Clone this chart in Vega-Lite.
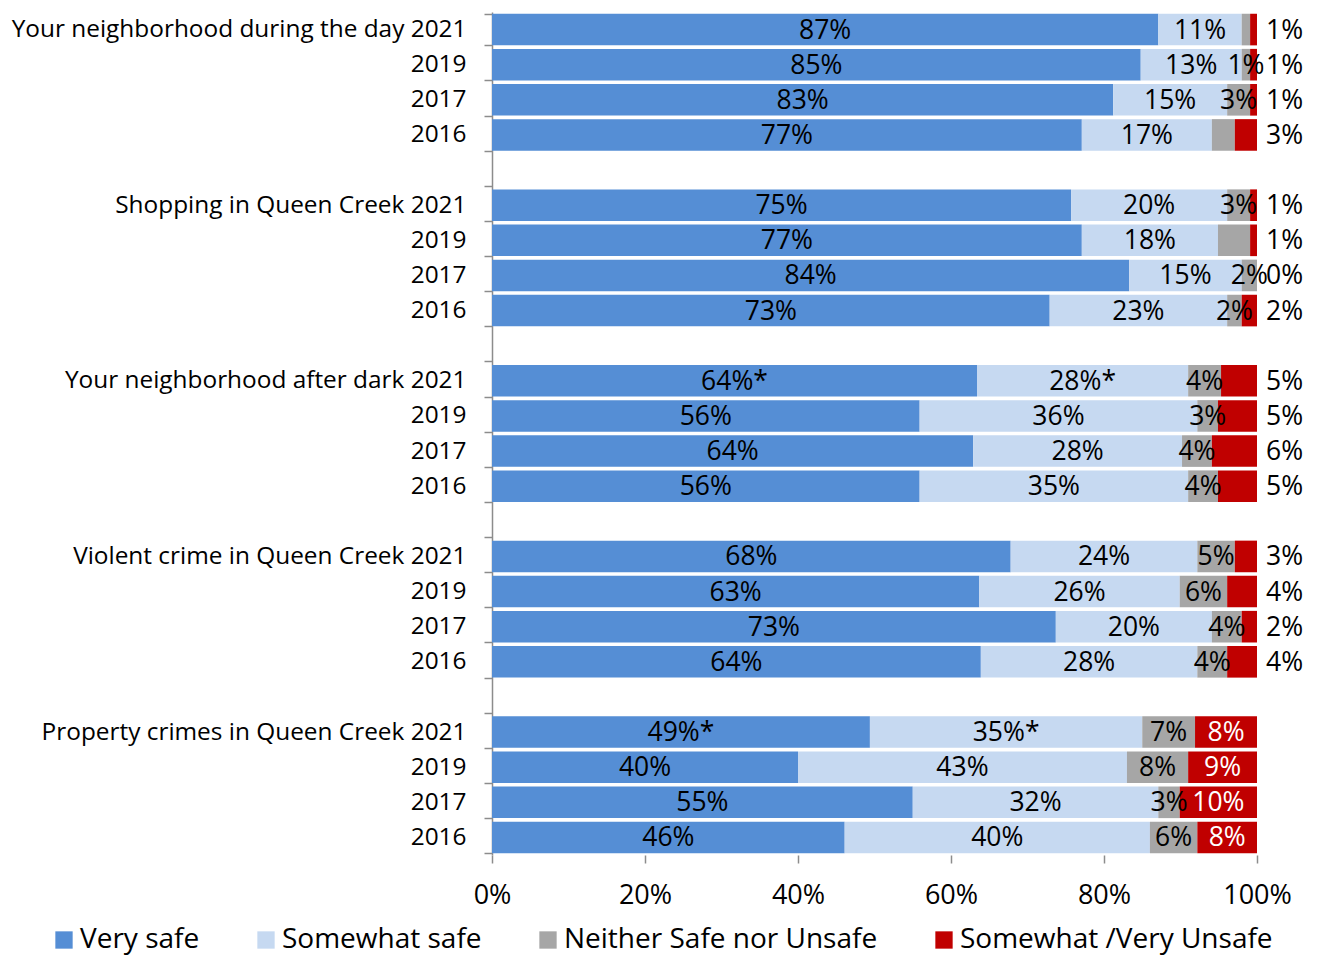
{
  "$schema": "https://vega.github.io/schema/vega-lite/v6.json",
  "width": 765,
  "height": 843,
  "autosize": {"type": "none"},
  "padding": {"left": 492, "top": 12, "right": 65, "bottom": 102},
  "background": "white",
  "config": {
    "view": {"stroke": null},
    "font": "Open Sans",
    "text": {"font": "Open Sans"}
  },
  "data": {
    "values": [
      {"row": "Your neighborhood during the day 2021|1", "cat": "Very safe", "k": 1, "v": 87.1, "lab": "87%", "out": ""},
      {"row": "Your neighborhood during the day 2021|1", "cat": "Somewhat safe", "k": 2, "v": 10.9, "lab": "11%", "out": ""},
      {"row": "Your neighborhood during the day 2021|1", "cat": "Neither Safe nor Unsafe", "k": 3, "v": 1.1, "lab": "", "out": ""},
      {"row": "Your neighborhood during the day 2021|1", "cat": "Somewhat /Very Unsafe", "k": 4, "v": 0.9, "lab": "", "out": "1%"},
      {"row": "2019|1", "cat": "Very safe", "k": 1, "v": 84.8, "lab": "85%", "out": ""},
      {"row": "2019|1", "cat": "Somewhat safe", "k": 2, "v": 13.2, "lab": "13%", "out": ""},
      {"row": "2019|1", "cat": "Neither Safe nor Unsafe", "k": 3, "v": 1.1, "lab": "1%", "out": ""},
      {"row": "2019|1", "cat": "Somewhat /Very Unsafe", "k": 4, "v": 0.9, "lab": "", "out": "1%"},
      {"row": "2017|1", "cat": "Very safe", "k": 1, "v": 81.2, "lab": "83%", "out": ""},
      {"row": "2017|1", "cat": "Somewhat safe", "k": 2, "v": 14.9, "lab": "15%", "out": ""},
      {"row": "2017|1", "cat": "Neither Safe nor Unsafe", "k": 3, "v": 3.0, "lab": "3%", "out": ""},
      {"row": "2017|1", "cat": "Somewhat /Very Unsafe", "k": 4, "v": 0.9, "lab": "", "out": "1%"},
      {"row": "2016|1", "cat": "Very safe", "k": 1, "v": 77.1, "lab": "77%", "out": ""},
      {"row": "2016|1", "cat": "Somewhat safe", "k": 2, "v": 17.0, "lab": "17%", "out": ""},
      {"row": "2016|1", "cat": "Neither Safe nor Unsafe", "k": 3, "v": 3.0, "lab": "", "out": ""},
      {"row": "2016|1", "cat": "Somewhat /Very Unsafe", "k": 4, "v": 2.9, "lab": "", "out": "3%"},

      {"row": "Shopping in Queen Creek 2021|2", "cat": "Very safe", "k": 1, "v": 75.7, "lab": "75%", "out": ""},
      {"row": "Shopping in Queen Creek 2021|2", "cat": "Somewhat safe", "k": 2, "v": 20.4, "lab": "20%", "out": ""},
      {"row": "Shopping in Queen Creek 2021|2", "cat": "Neither Safe nor Unsafe", "k": 3, "v": 3.0, "lab": "3%", "out": ""},
      {"row": "Shopping in Queen Creek 2021|2", "cat": "Somewhat /Very Unsafe", "k": 4, "v": 0.9, "lab": "", "out": "1%"},
      {"row": "2019|2", "cat": "Very safe", "k": 1, "v": 77.1, "lab": "77%", "out": ""},
      {"row": "2019|2", "cat": "Somewhat safe", "k": 2, "v": 17.8, "lab": "18%", "out": ""},
      {"row": "2019|2", "cat": "Neither Safe nor Unsafe", "k": 3, "v": 4.2, "lab": "", "out": ""},
      {"row": "2019|2", "cat": "Somewhat /Very Unsafe", "k": 4, "v": 0.9, "lab": "", "out": "1%"},
      {"row": "2017|2", "cat": "Very safe", "k": 1, "v": 83.3, "lab": "84%", "out": ""},
      {"row": "2017|2", "cat": "Somewhat safe", "k": 2, "v": 14.7, "lab": "15%", "out": ""},
      {"row": "2017|2", "cat": "Neither Safe nor Unsafe", "k": 3, "v": 2.0, "lab": "2%", "out": ""},
      {"row": "2017|2", "cat": "Somewhat /Very Unsafe", "k": 4, "v": 0.0, "lab": "", "out": "0%"},
      {"row": "2016|2", "cat": "Very safe", "k": 1, "v": 72.9, "lab": "73%", "out": ""},
      {"row": "2016|2", "cat": "Somewhat safe", "k": 2, "v": 23.2, "lab": "23%", "out": ""},
      {"row": "2016|2", "cat": "Neither Safe nor Unsafe", "k": 3, "v": 1.9, "lab": "2%", "out": ""},
      {"row": "2016|2", "cat": "Somewhat /Very Unsafe", "k": 4, "v": 2.0, "lab": "", "out": "2%"},

      {"row": "Your neighborhood after dark 2021|3", "cat": "Very safe", "k": 1, "v": 63.4, "lab": "64%*", "out": ""},
      {"row": "Your neighborhood after dark 2021|3", "cat": "Somewhat safe", "k": 2, "v": 27.6, "lab": "28%*", "out": ""},
      {"row": "Your neighborhood after dark 2021|3", "cat": "Neither Safe nor Unsafe", "k": 3, "v": 4.3, "lab": "4%", "out": ""},
      {"row": "Your neighborhood after dark 2021|3", "cat": "Somewhat /Very Unsafe", "k": 4, "v": 4.7, "lab": "", "out": "5%"},
      {"row": "2019|3", "cat": "Very safe", "k": 1, "v": 55.9, "lab": "56%", "out": ""},
      {"row": "2019|3", "cat": "Somewhat safe", "k": 2, "v": 36.3, "lab": "36%", "out": ""},
      {"row": "2019|3", "cat": "Neither Safe nor Unsafe", "k": 3, "v": 2.7, "lab": "3%", "out": ""},
      {"row": "2019|3", "cat": "Somewhat /Very Unsafe", "k": 4, "v": 5.1, "lab": "", "out": "5%"},
      {"row": "2017|3", "cat": "Very safe", "k": 1, "v": 62.9, "lab": "64%", "out": ""},
      {"row": "2017|3", "cat": "Somewhat safe", "k": 2, "v": 27.3, "lab": "28%", "out": ""},
      {"row": "2017|3", "cat": "Neither Safe nor Unsafe", "k": 3, "v": 3.9, "lab": "4%", "out": ""},
      {"row": "2017|3", "cat": "Somewhat /Very Unsafe", "k": 4, "v": 5.9, "lab": "", "out": "6%"},
      {"row": "2016|3", "cat": "Very safe", "k": 1, "v": 55.9, "lab": "56%", "out": ""},
      {"row": "2016|3", "cat": "Somewhat safe", "k": 2, "v": 35.1, "lab": "35%", "out": ""},
      {"row": "2016|3", "cat": "Neither Safe nor Unsafe", "k": 3, "v": 3.9, "lab": "4%", "out": ""},
      {"row": "2016|3", "cat": "Somewhat /Very Unsafe", "k": 4, "v": 5.1, "lab": "", "out": "5%"},

      {"row": "Violent crime in Queen Creek 2021|4", "cat": "Very safe", "k": 1, "v": 67.8, "lab": "68%", "out": ""},
      {"row": "Violent crime in Queen Creek 2021|4", "cat": "Somewhat safe", "k": 2, "v": 24.4, "lab": "24%", "out": ""},
      {"row": "Violent crime in Queen Creek 2021|4", "cat": "Neither Safe nor Unsafe", "k": 3, "v": 4.9, "lab": "5%", "out": ""},
      {"row": "Violent crime in Queen Creek 2021|4", "cat": "Somewhat /Very Unsafe", "k": 4, "v": 2.9, "lab": "", "out": "3%"},
      {"row": "2019|4", "cat": "Very safe", "k": 1, "v": 63.7, "lab": "63%", "out": ""},
      {"row": "2019|4", "cat": "Somewhat safe", "k": 2, "v": 26.2, "lab": "26%", "out": ""},
      {"row": "2019|4", "cat": "Neither Safe nor Unsafe", "k": 3, "v": 6.2, "lab": "6%", "out": ""},
      {"row": "2019|4", "cat": "Somewhat /Very Unsafe", "k": 4, "v": 3.9, "lab": "", "out": "4%"},
      {"row": "2017|4", "cat": "Very safe", "k": 1, "v": 73.7, "lab": "73%", "out": ""},
      {"row": "2017|4", "cat": "Somewhat safe", "k": 2, "v": 20.4, "lab": "20%", "out": ""},
      {"row": "2017|4", "cat": "Neither Safe nor Unsafe", "k": 3, "v": 3.9, "lab": "4%", "out": ""},
      {"row": "2017|4", "cat": "Somewhat /Very Unsafe", "k": 4, "v": 2.0, "lab": "", "out": "2%"},
      {"row": "2016|4", "cat": "Very safe", "k": 1, "v": 63.9, "lab": "64%", "out": ""},
      {"row": "2016|4", "cat": "Somewhat safe", "k": 2, "v": 28.3, "lab": "28%", "out": ""},
      {"row": "2016|4", "cat": "Neither Safe nor Unsafe", "k": 3, "v": 3.9, "lab": "4%", "out": ""},
      {"row": "2016|4", "cat": "Somewhat /Very Unsafe", "k": 4, "v": 3.9, "lab": "", "out": "4%"},

      {"row": "Property crimes in Queen Creek 2021|5", "cat": "Very safe", "k": 1, "v": 49.4, "lab": "49%*", "out": ""},
      {"row": "Property crimes in Queen Creek 2021|5", "cat": "Somewhat safe", "k": 2, "v": 35.6, "lab": "35%*", "out": ""},
      {"row": "Property crimes in Queen Creek 2021|5", "cat": "Neither Safe nor Unsafe", "k": 3, "v": 6.9, "lab": "7%", "out": ""},
      {"row": "Property crimes in Queen Creek 2021|5", "cat": "Somewhat /Very Unsafe", "k": 4, "v": 8.1, "lab": "8%", "out": ""},
      {"row": "2019|5", "cat": "Very safe", "k": 1, "v": 40.0, "lab": "40%", "out": ""},
      {"row": "2019|5", "cat": "Somewhat safe", "k": 2, "v": 43.0, "lab": "43%", "out": ""},
      {"row": "2019|5", "cat": "Neither Safe nor Unsafe", "k": 3, "v": 8.0, "lab": "8%", "out": ""},
      {"row": "2019|5", "cat": "Somewhat /Very Unsafe", "k": 4, "v": 9.0, "lab": "9%", "out": ""},
      {"row": "2017|5", "cat": "Very safe", "k": 1, "v": 55.0, "lab": "55%", "out": ""},
      {"row": "2017|5", "cat": "Somewhat safe", "k": 2, "v": 32.1, "lab": "32%", "out": ""},
      {"row": "2017|5", "cat": "Neither Safe nor Unsafe", "k": 3, "v": 2.8, "lab": "3%", "out": ""},
      {"row": "2017|5", "cat": "Somewhat /Very Unsafe", "k": 4, "v": 10.1, "lab": "10%", "out": ""},
      {"row": "2016|5", "cat": "Very safe", "k": 1, "v": 46.1, "lab": "46%", "out": ""},
      {"row": "2016|5", "cat": "Somewhat safe", "k": 2, "v": 39.9, "lab": "40%", "out": ""},
      {"row": "2016|5", "cat": "Neither Safe nor Unsafe", "k": 3, "v": 6.2, "lab": "6%", "out": ""},
      {"row": "2016|5", "cat": "Somewhat /Very Unsafe", "k": 4, "v": 7.8, "lab": "8%", "out": ""}
    ]
  },
  "encoding": {
    "y": {
      "field": "row",
      "type": "nominal",
      "title": null,
      "scale": {
        "domain": [
          "Your neighborhood during the day 2021|1", "2019|1", "2017|1", "2016|1", "|a",
          "Shopping in Queen Creek 2021|2", "2019|2", "2017|2", "2016|2", "|b",
          "Your neighborhood after dark 2021|3", "2019|3", "2017|3", "2016|3", "|c",
          "Violent crime in Queen Creek 2021|4", "2019|4", "2017|4", "2016|4", "|d",
          "Property crimes in Queen Creek 2021|5", "2019|5", "2017|5", "2016|5"
        ],
        "paddingInner": 0.1,
        "paddingOuter": 0.05
      },
      "axis": {
        "labelExpr": "split(datum.label, '|')[0]",
        "labelFontSize": 24.4,
        "labelColor": "#000000",
        "labelFont": "Open Sans",
        "labelPadding": 18,
        "labelLimit": 600,
        "tickBand": "extent",
        "tickSize": 8,
        "tickColor": "#8c8c8c",
        "domainColor": "#8c8c8c",
        "tickWidth": 1.5,
        "domainWidth": 1.5,
        "grid": false
      }
    },
    "x": {
      "field": "v",
      "type": "quantitative",
      "stack": "zero",
      "title": null,
      "scale": {"domain": [0, 100], "nice": false},
      "axis": {
        "values": [0, 20, 40, 60, 80, 100],
        "labelExpr": "datum.value + '%'",
        "labelFontSize": 27,
        "labelColor": "#000000",
        "labelFont": "Open Sans",
        "labelFlush": false,
        "labelOverlap": false,
        "labelPadding": 19,
        "tickSize": 8,
        "tickColor": "#8c8c8c",
        "tickWidth": 1.5,
        "domain": false,
        "grid": false
      }
    },
    "order": {"field": "k", "type": "quantitative"}
  },
  "layer": [
    {
      "mark": {"type": "bar"},
      "encoding": {
        "color": {
          "field": "cat",
          "type": "nominal",
          "title": null,
          "scale": {
            "domain": ["Very safe", "Somewhat safe", "Neither Safe nor Unsafe", "Somewhat /Very Unsafe"],
            "range": ["#558ED5", "#C6D9F1", "#A6A6A6", "#C00000"]
          },
          "legend": {
            "orient": "none",
            "direction": "horizontal",
            "legendX": -442,
            "legendY": 914,
            "symbolType": "square",
            "symbolSize": 300,
            "symbolStrokeWidth": 0,
            "labelFontSize": 28,
            "labelFont": "Open Sans",
            "labelColor": "#000000",
            "labelOffset": 2,
            "columnPadding": 52,
            "labelLimit": 500
          }
        }
      }
    },
    {
      "mark": {"type": "text", "fontSize": 26.5, "baseline": "middle", "align": "center", "dy": 1},
      "encoding": {
        "x": {"field": "v", "type": "quantitative", "stack": "zero", "bandPosition": 0.5},
        "text": {"field": "lab"},
        "color": {
          "condition": {"test": "datum.k === 4", "value": "#ffffff"},
          "value": "#000000"
        }
      }
    },
    {
      "mark": {"type": "text", "fontSize": 26.5, "baseline": "middle", "align": "left", "dx": 9, "dy": 1},
      "encoding": {
        "x": {"field": "v", "type": "quantitative", "stack": "zero", "bandPosition": 1},
        "text": {"field": "out"},
        "color": {"value": "#000000"}
      }
    }
  ]
}
